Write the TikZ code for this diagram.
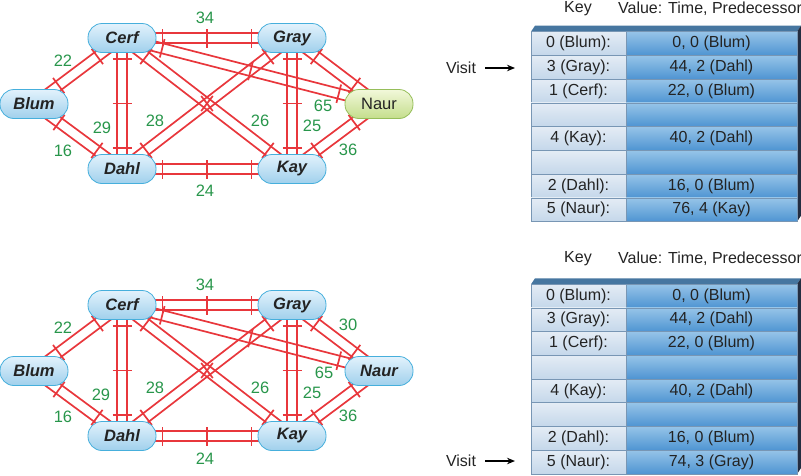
\documentclass[tikz,border=0pt]{standalone}
\usepackage{fontspec}
\setmainfont{Liberation Sans}
\usetikzlibrary{arrows.meta,backgrounds,decorations.markings}

\definecolor{railred}{RGB}{232,55,60}
\definecolor{costgreen}{RGB}{40,150,75}
\definecolor{cityline}{RGB}{70,175,220}
\definecolor{citytop}{RGB}{226,242,252}
\definecolor{citybot}{RGB}{160,208,236}
\definecolor{naurline}{RGB}{150,190,90}
\definecolor{naurtop}{RGB}{242,248,218}
\definecolor{naurbot}{RGB}{196,222,140}
\definecolor{keytop}{RGB}{228,236,245}
\definecolor{keybot}{RGB}{196,215,234}
\definecolor{valtop}{RGB}{150,196,232}
\definecolor{valbot}{RGB}{78,148,210}
\definecolor{cellline}{RGB}{120,150,180}
\definecolor{tabletop}{RGB}{70,118,160}
\definecolor{tableside}{RGB}{35,45,65}
\definecolor{textgray}{RGB}{35,35,35}

\tikzset{
  city/.style={draw=cityline, line width=0.8pt, top color=citytop, bottom color=citybot,
    rounded corners=14pt, minimum width=68pt, minimum height=29pt, inner sep=0pt,
    text=textgray, font=\fontsize{16.5}{18}\selectfont\bfseries\itshape},
  start city/.style={city, draw=naurline, top color=naurtop, bottom color=naurbot,
    font=\fontsize{16.5}{18}\selectfont},
  cost/.style={text=costgreen, inner sep=0pt, font=\fontsize{16.5}{18}\selectfont},
  railline/.style={draw=railred, line width=1.7pt},
  short rail/.style={draw=none, postaction={decorate}, decoration={markings,
    mark=at position 0 with {
      \draw[railline] (-8pt,5pt) -- ({\pgfdecoratedpathlength+8pt},5pt);
      \draw[railline] (-8pt,-5pt) -- ({\pgfdecoratedpathlength+8pt},-5pt);
      \draw[railline] (6pt,-9.5pt) -- (6pt,9.5pt);
      \draw[railline] ({\pgfdecoratedpathlength-6pt},-9.5pt) -- ({\pgfdecoratedpathlength-6pt},9.5pt);
    }}},
  rail/.style={draw=none, postaction={decorate}, decoration={markings,
    mark=at position 0 with {
      \draw[railline] (-8pt,5pt) -- ({\pgfdecoratedpathlength+8pt},5pt);
      \draw[railline] (-8pt,-5pt) -- ({\pgfdecoratedpathlength+8pt},-5pt);
      \draw[railline] (6pt,-9.5pt) -- (6pt,9.5pt);
      \draw[railline] ({\pgfdecoratedpathlength-6pt},-9.5pt) -- ({\pgfdecoratedpathlength-6pt},9.5pt);
    },
    mark=at position 0.5 with {\draw[railline] (0,-9.5pt) -- (0,9.5pt);}}},
  keycell/.style={draw=cellline, line width=0.6pt, top color=keytop, bottom color=keybot,
    minimum width=95pt, minimum height=23.75pt, inner sep=0pt, text=textgray,
    font=\fontsize{16}{18}\selectfont},
  valcell/.style={keycell, top color=valtop, bottom color=valbot, minimum width=171pt},
  head/.style={inner sep=0pt, text=textgray, font=\fontsize{16}{18}\selectfont},
  visitarrow/.style={line width=1.4pt, -{Stealth[length=8pt,width=6.5pt]}, shorten <=9pt}
}

\begin{document}
\begin{tikzpicture}[x=1pt, y=-1pt]
  \useasboundingbox (0,0) rectangle (801,475);

  %States (top)
  \node[city] (blum1) at (34,104) {Blum};
  \node[city] (cerf1) at (122,38) {Cerf};
  \node[city] (gray1) at (292,38) {Gray};
  \node[start city] (naur1) at (379,104) {Naur};
  \node[city] (dahl1) at (122,169) {Dahl};
  \node[city] (kay1) at (292,169) {Kay};

  %States (bottom)
  \node[city] (blum2) at (34,371) {Blum};
  \node[city] (cerf2) at (122,305) {Cerf};
  \node[city] (gray2) at (292,305) {Gray};
  \node[city] (naur2) at (379,371) {Naur};
  \node[city] (dahl2) at (122,436) {Dahl};
  \node[city] (kay2) at (292,436) {Kay};

  %Edges
  \begin{pgfonlayer}{background}
    %top
    \draw[short rail] (blum1) -- (cerf1);
    \draw[short rail] (blum1) -- (dahl1);
    \draw[rail] (cerf1) -- (gray1);
    \draw[rail] (cerf1) -- (dahl1);
    \draw[rail] (cerf1) -- (kay1);
    \draw[rail] (cerf1) -- (naur1);
    \draw[rail] (dahl1) -- (gray1);
    \draw[rail] (dahl1) -- (kay1);
    \draw[rail] (gray1) -- (kay1);
    \draw[short rail] (gray1) -- (naur1);
    \draw[short rail] (kay1) -- (naur1);
    %bottom
    \draw[short rail] (blum2) -- (cerf2);
    \draw[short rail] (blum2) -- (dahl2);
    \draw[rail] (cerf2) -- (gray2);
    \draw[rail] (cerf2) -- (dahl2);
    \draw[rail] (cerf2) -- (kay2);
    \draw[rail] (cerf2) -- (naur2);
    \draw[rail] (dahl2) -- (gray2);
    \draw[rail] (dahl2) -- (kay2);
    \draw[rail] (gray2) -- (kay2);
    \draw[short rail] (gray2) -- (naur2);
    \draw[short rail] (kay2) -- (naur2);
  \end{pgfonlayer}

  %Labels (top)
  \node[cost] (c34a) at (205,18) {34};
  \node[cost] (c22a) at (63,61) {22};
  \node[cost] (c16a) at (63,151) {16};
  \node[cost] (c29a) at (102,128) {29};
  \node[cost] (c28a) at (155,121) {28};
  \node[cost] (c26a) at (260,121) {26};
  \node[cost] (c65a) at (323,106) {65};
  \node[cost] (c25a) at (312,126) {25};
  \node[cost] (c36a) at (348,150) {36};
  \node[cost] (c24a) at (205,191) {24};

  %Labels (bottom)
  \node[cost] (c34b) at (205,285) {34};
  \node[cost] (c22b) at (63,328) {22};
  \node[cost] (c16b) at (63,417) {16};
  \node[cost] (c29b) at (101,395) {29};
  \node[cost] (c28b) at (155,388) {28};
  \node[cost] (c26b) at (260,388) {26};
  \node[cost] (c65b) at (324,373) {65};
  \node[cost] (c25b) at (312,393) {25};
  \node[cost] (c36b) at (348,416) {36};
  \node[cost] (c30b) at (348,325) {30};
  \node[cost] (c24b) at (205,459) {24};

  %Table (top)
  \node[head] (keyhead1) at (578,9) {Key};
  \node[head] (valhead1) at (710,9) {Value: Time, Predecessor};
  \fill[tabletop] (531,31.7) -- (535,25.7) -- (801,25.7) -- (797,31.7) -- cycle;
  \fill[tableside] (797,31.7) -- (801,25.7) -- (801,215.7) -- (797,221.7) -- cycle;
  \foreach \k/\v [count=\i] in {{0 (Blum):/0, 0 (Blum)}, {3 (Gray):/44, 2 (Dahl)},
      {1 (Cerf):/22, 0 (Blum)}, {/}, {4 (Kay):/40, 2 (Dahl)}, {/},
      {2 (Dahl):/16, 0 (Blum)}, {5 (Naur):/76, 4 (Kay)}} {
    \node[keycell] (keya\i) at (578.5,{31.7+23.75*(\i-0.5)}) {\k};
    \node[valcell] (vala\i) at (711.5,{31.7+23.75*(\i-0.5)}) {\v};
  }
  \node[head] (visit1) at (461,68) {Visit};
  \coordinate (visitend1) at (515,68);
  \draw[visitarrow] (visit1.east) -- (visitend1);

  %Table (bottom)
  \node[head] (keyhead2) at (578,259) {Key};
  \node[head] (valhead2) at (710,259) {Value: Time, Predecessor};
  \fill[tabletop] (531,284.3) -- (535,278.3) -- (801,278.3) -- (797,284.3) -- cycle;
  \fill[tableside] (797,284.3) -- (801,278.3) -- (801,468) -- (797,474) -- cycle;
  \foreach \k/\v [count=\i] in {{0 (Blum):/0, 0 (Blum)}, {3 (Gray):/44, 2 (Dahl)},
      {1 (Cerf):/22, 0 (Blum)}, {/}, {4 (Kay):/40, 2 (Dahl)}, {/},
      {2 (Dahl):/16, 0 (Blum)}, {5 (Naur):/74, 3 (Gray)}} {
    \node[keycell] (keyb\i) at (578.5,{284.3+23.7*(\i-0.5)}) {\k};
    \node[valcell] (valb\i) at (711.5,{284.3+23.7*(\i-0.5)}) {\v};
  }
  \node[head] (visit2) at (461,461) {Visit};
  \coordinate (visitend2) at (515,461);
  \draw[visitarrow] (visit2.east) -- (visitend2);

\end{tikzpicture}
\end{document}
